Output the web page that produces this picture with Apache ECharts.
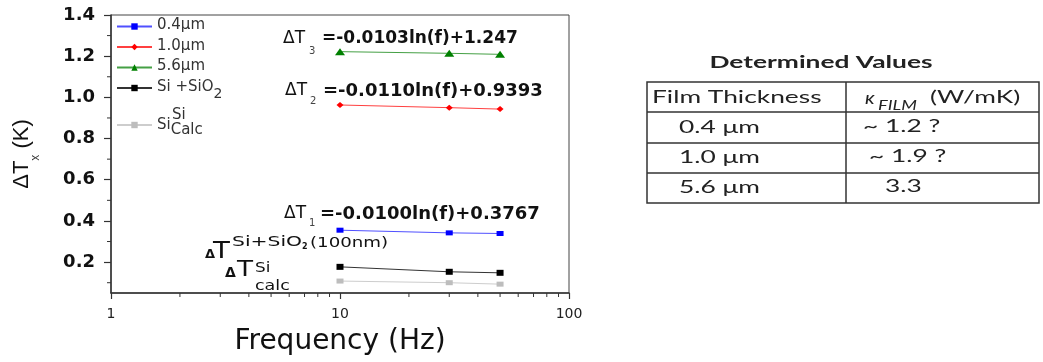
<!DOCTYPE html>
<html><head><meta charset="utf-8">
<script src="https://cdn.jsdelivr.net/npm/echarts@6/dist/echarts.min.js"></script>
<style>html,body{margin:0;padding:0;background:#fff;}#c{width:1043px;height:362px;}</style>
</head><body><div id="c"></div>
<script>
// ---- data ----
const freq = [10, 30, 50];
const seriesNames = ['0.4μm', '1.0μm', '5.6μm', 'Si +SiO2', 'Si calc'];
const dT_04 = [0.355, 0.342, 0.339];
const dT_10 = [0.963, 0.950, 0.943];
const dT_56 = [1.222, 1.214, 1.209];
const dT_SiO2 = [0.177, 0.153, 0.148];
const dT_calc = [0.108, 0.100, 0.093];
const yTickLabels = [0.2, 0.4, 0.6, 0.8, 1.0, 1.2, 1.4];
const yMinorTicks = [0.1, 0.3, 0.5, 0.7, 0.9, 1.1, 1.3];
const xMinorTicks = [2, 3, 4, 5, 6, 7, 8, 9, 20, 30, 40, 50, 60, 70, 80, 90];
const yMin = 0.05, yMax = 1.4, xMin = 1, xMax = 100;
const fitSubs = ['3', '2', '1'];
const fitTexts = ['=-0.0103ln(f)+1.247', '=-0.0110ln(f)+0.9393', '=-0.0100ln(f)+0.3767'];
const tableTitle = 'Determined Values';
const tableHead = ['Film Thickness', 'κ', 'FILM', '(W/mK)'];
const tableThickness = ['0.4 μm', '1.0 μm', '5.6 μm'];
const tableKappa = ['~ 1.2 ?', '~ 1.9 ?', '3.3'];

// ---- styles ----
const markColors = ['#0000ff', '#ff0000', '#008000', '#000000', '#bdbdbd'];
const lineColors = ['#5050ff', '#ff4040', '#45a045', '#333333', '#cdcdcd'];
const symbols = ['rect', 'diamond', 'triangle', 'rect', 'rect'];
const symbolSizes = [[7, 5], [7, 6], [10, 7], [7, 6], [7, 5]];
const allValues = [dT_04, dT_10, dT_56, dT_SiO2, dT_calc];

const series = allValues.map((vals, i) => ({
  name: seriesNames[i],
  type: 'line',
  data: freq.map((f, j) => [f, vals[j]]),
  symbol: symbols[i],
  symbolSize: symbolSizes[i],
  itemStyle: { color: markColors[i] },
  lineStyle: { color: lineColors[i], width: 1 },
  emphasis: { disabled: true },
  z: 3
}));

// minor ticks drawn through the axis scales
series.push({
  type: 'custom', name: 'xMinor', silent: true, clip: false, z: 5,
  data: xMinorTicks.map(v => [v, yMin]),
  renderItem: function (params, api) {
    const p = api.coord([api.value(0), api.value(1)]);
    return { type: 'line', shape: { x1: p[0], y1: p[1], x2: p[0], y2: p[1] + 4 }, style: { stroke: '#333', lineWidth: 1 } };
  }
});
series.push({
  type: 'custom', name: 'yMinor', silent: true, clip: false, z: 5,
  data: yMinorTicks.map(v => [xMin, v]),
  renderItem: function (params, api) {
    const p = api.coord([api.value(0), api.value(1)]);
    return { type: 'line', shape: { x1: p[0] - 4, y1: p[1], x2: p[0], y2: p[1] }, style: { stroke: '#333', lineWidth: 1 } };
  }
});

function T(x, y, text, font, opts) {
  opts = opts || {};
  return {
    type: 'text', x: x, y: y, scaleX: opts.sx || 1, silent: true,
    style: {
      text: text, font: font, fill: opts.fill || '#111',
      align: opts.align || 'left', verticalAlign: 'middle',
      textAlign: opts.align || 'left', textVerticalAlign: 'middle'
    }
  };
}

const graphics = [];
const fitPos = [[283, 39, 309, 51, 322, 17], [285, 91, 310, 101, 323, 18], [284, 214, 309, 223, 320, 18]];
fitPos.forEach((p, i) => {
  graphics.push(T(p[0], p[1], 'ΔT', '17px "DejaVu Sans"'));
  graphics.push(T(p[2], p[3], fitSubs[i], '10px "DejaVu Sans"', { fill: '#444' }));
  graphics.push(T(p[4], p[1], fitTexts[i], 'bold ' + p[5] + 'px "DejaVu Sans"'));
});
graphics.push(T(205, 255, 'Δ', 'bold 13px "DejaVu Sans"'));
graphics.push(T(213, 252, 'T', '23px "DejaVu Sans"', { sx: 1.2 }));
graphics.push(T(232, 242, 'Si+SiO', '14px "DejaVu Sans"', { sx: 1.45 }));
graphics.push(T(302, 247, '2', 'bold 8px "DejaVu Sans"'));
graphics.push(T(310, 243, '(100nm)', '14px "DejaVu Sans"', { sx: 1.3 }));
graphics.push(T(225, 273, 'Δ', 'bold 14px "DejaVu Sans"'));
graphics.push(T(237, 271, 'T', '21px "DejaVu Sans"', { sx: 1.25 }));
graphics.push(T(255, 268, 'Si', '14px "DejaVu Sans"', { sx: 1.2 }));
graphics.push(T(255, 286, 'calc', '14px "DejaVu Sans"', { sx: 1.25 }));

// table
const tL = 647, tR = 1039, tM = 846, rows = [82, 112, 143, 173, 203];
const tStroke = { stroke: '#333', lineWidth: 1.5, fill: null };
graphics.push({ type: 'rect', silent: true, shape: { x: tL, y: rows[0], width: tR - tL, height: rows[4] - rows[0] }, style: { stroke: '#333', lineWidth: 1.5, fill: 'none' } });
for (let r = 1; r < 4; r++) graphics.push({ type: 'line', silent: true, shape: { x1: tL, y1: rows[r], x2: tR, y2: rows[r] }, style: tStroke });
graphics.push({ type: 'line', silent: true, shape: { x1: tM, y1: rows[0], x2: tM, y2: rows[4] }, style: tStroke });
const SX = 1.55;
graphics.push(T(821, 63, tableTitle, 'bold 17px Lato', { sx: SX, align: 'center', fill: '#222' }));
graphics.push(T(652, 98, tableHead[0], '17px Lato', { sx: SX, fill: '#222' }));
graphics.push(T(865, 99, tableHead[1], 'italic 17px Lato', { sx: 1.2, fill: '#222' }));
graphics.push(T(878, 106, tableHead[2], 'italic 13px Lato', { sx: 1.4, fill: '#222' }));
graphics.push(T(930, 98, tableHead[3], '17px Lato', { sx: SX, fill: '#222' }));
const kx = [863, 869, 885];
const ry = [128, 158, 188];
tableThickness.forEach((s, i) => {
  graphics.push(T(679, ry[i], s, '17px Lato', { sx: SX, fill: '#222' }));
  graphics.push(T(kx[i], ry[i] - 1, tableKappa[i], '17px Lato', { sx: SX, fill: '#222' }));
});

const legendFmt = function (name) {
  if (name === 'Si +SiO2') return '{m|Si +SiO}{s|2}';
  if (name === 'Si calc') return '{g| }{sup|Si}\n{b|Si}{c|Calc}\n{h| }';
  return '{m|' + name + '}';
};

const axisFont = 'DejaVu Sans';
const lf = { fontFamily: axisFont, fontSize: 15, color: '#333' };
const option = {
  animation: false,
  backgroundColor: '#fff',
  grid: { left: 111, right: 474, top: 15, bottom: 69, show: true, borderColor: '#444', borderWidth: 1, outerBoundsMode: 'none' },
  legend: {
    orient: 'vertical', left: 116, top: 18, itemWidth: 35, itemHeight: 8, itemGap: 3.5,
    padding: 0, selectedMode: false,
    data: seriesNames,
    formatter: legendFmt,
    textStyle: {
      fontFamily: axisFont, fontSize: 15, color: '#333', lineHeight: 17,
      rich: {
        m: Object.assign({ lineHeight: 17, verticalAlign: 'top' }, lf),
        s: Object.assign({}, lf, { fontSize: 14, lineHeight: 9, padding: [7.5, 0, 0, 0], verticalAlign: 'top' }),
        g: Object.assign({}, lf, { width: 15, lineHeight: 13.5, verticalAlign: 'top' }),
        sup: Object.assign({}, lf, { lineHeight: 10, padding: [3.5, 0, 0, 0], verticalAlign: 'top' }),
        b: Object.assign({}, lf, { lineHeight: 10, verticalAlign: 'top' }),
        c: Object.assign({}, lf, { lineHeight: 10, padding: [5, 0, 0, 0], verticalAlign: 'top' }),
        h: { fontSize: 2, lineHeight: 17.5 }
      }
    }
  },
  xAxis: {
    type: 'log', logBase: 10, min: xMin, max: xMax,
    name: 'Frequency (Hz)', nameLocation: 'middle', nameGap: 35,
    nameTextStyle: { fontFamily: axisFont, fontSize: 28, color: '#111' },
    axisLine: { show: true, onZero: false, lineStyle: { color: '#333', width: 1.5 } },
    axisTick: { show: true, inside: false, length: 6, lineStyle: { color: '#333', width: 1.2 } },
    axisLabel: { fontFamily: axisFont, fontSize: 14, color: '#222', margin: 14 },
    splitLine: { show: false }
  },
  yAxis: {
    type: 'value', min: yMin, max: yMax,
    name: '{a|ΔT}{s|x}{a| (K)}', nameLocation: 'middle', nameRotate: 90, nameGap: 69,
    nameTextStyle: {
      rich: {
        a: { fontFamily: 'Liberation Sans', fontSize: 22, lineHeight: 41, color: '#111' },
        s: { fontFamily: 'Liberation Sans', fontSize: 12, lineHeight: 12, color: '#333', verticalAlign: 'bottom' }
      }
    },
    axisLine: { show: true, onZero: false, lineStyle: { color: '#333', width: 1.5 } },
    axisTick: { show: true, length: 7, customValues: yTickLabels, lineStyle: { color: '#333', width: 1.2 } },
    axisLabel: { customValues: yTickLabels, fontFamily: axisFont, fontWeight: 'bold', fontSize: 18, color: '#111', margin: 16, formatter: v => Number(v).toFixed(1) },
    splitLine: { show: false }
  },
  series: series,
  graphic: graphics
};
const chart = echarts.init(document.getElementById('c'));
chart.setOption(option);
</script></body></html>
